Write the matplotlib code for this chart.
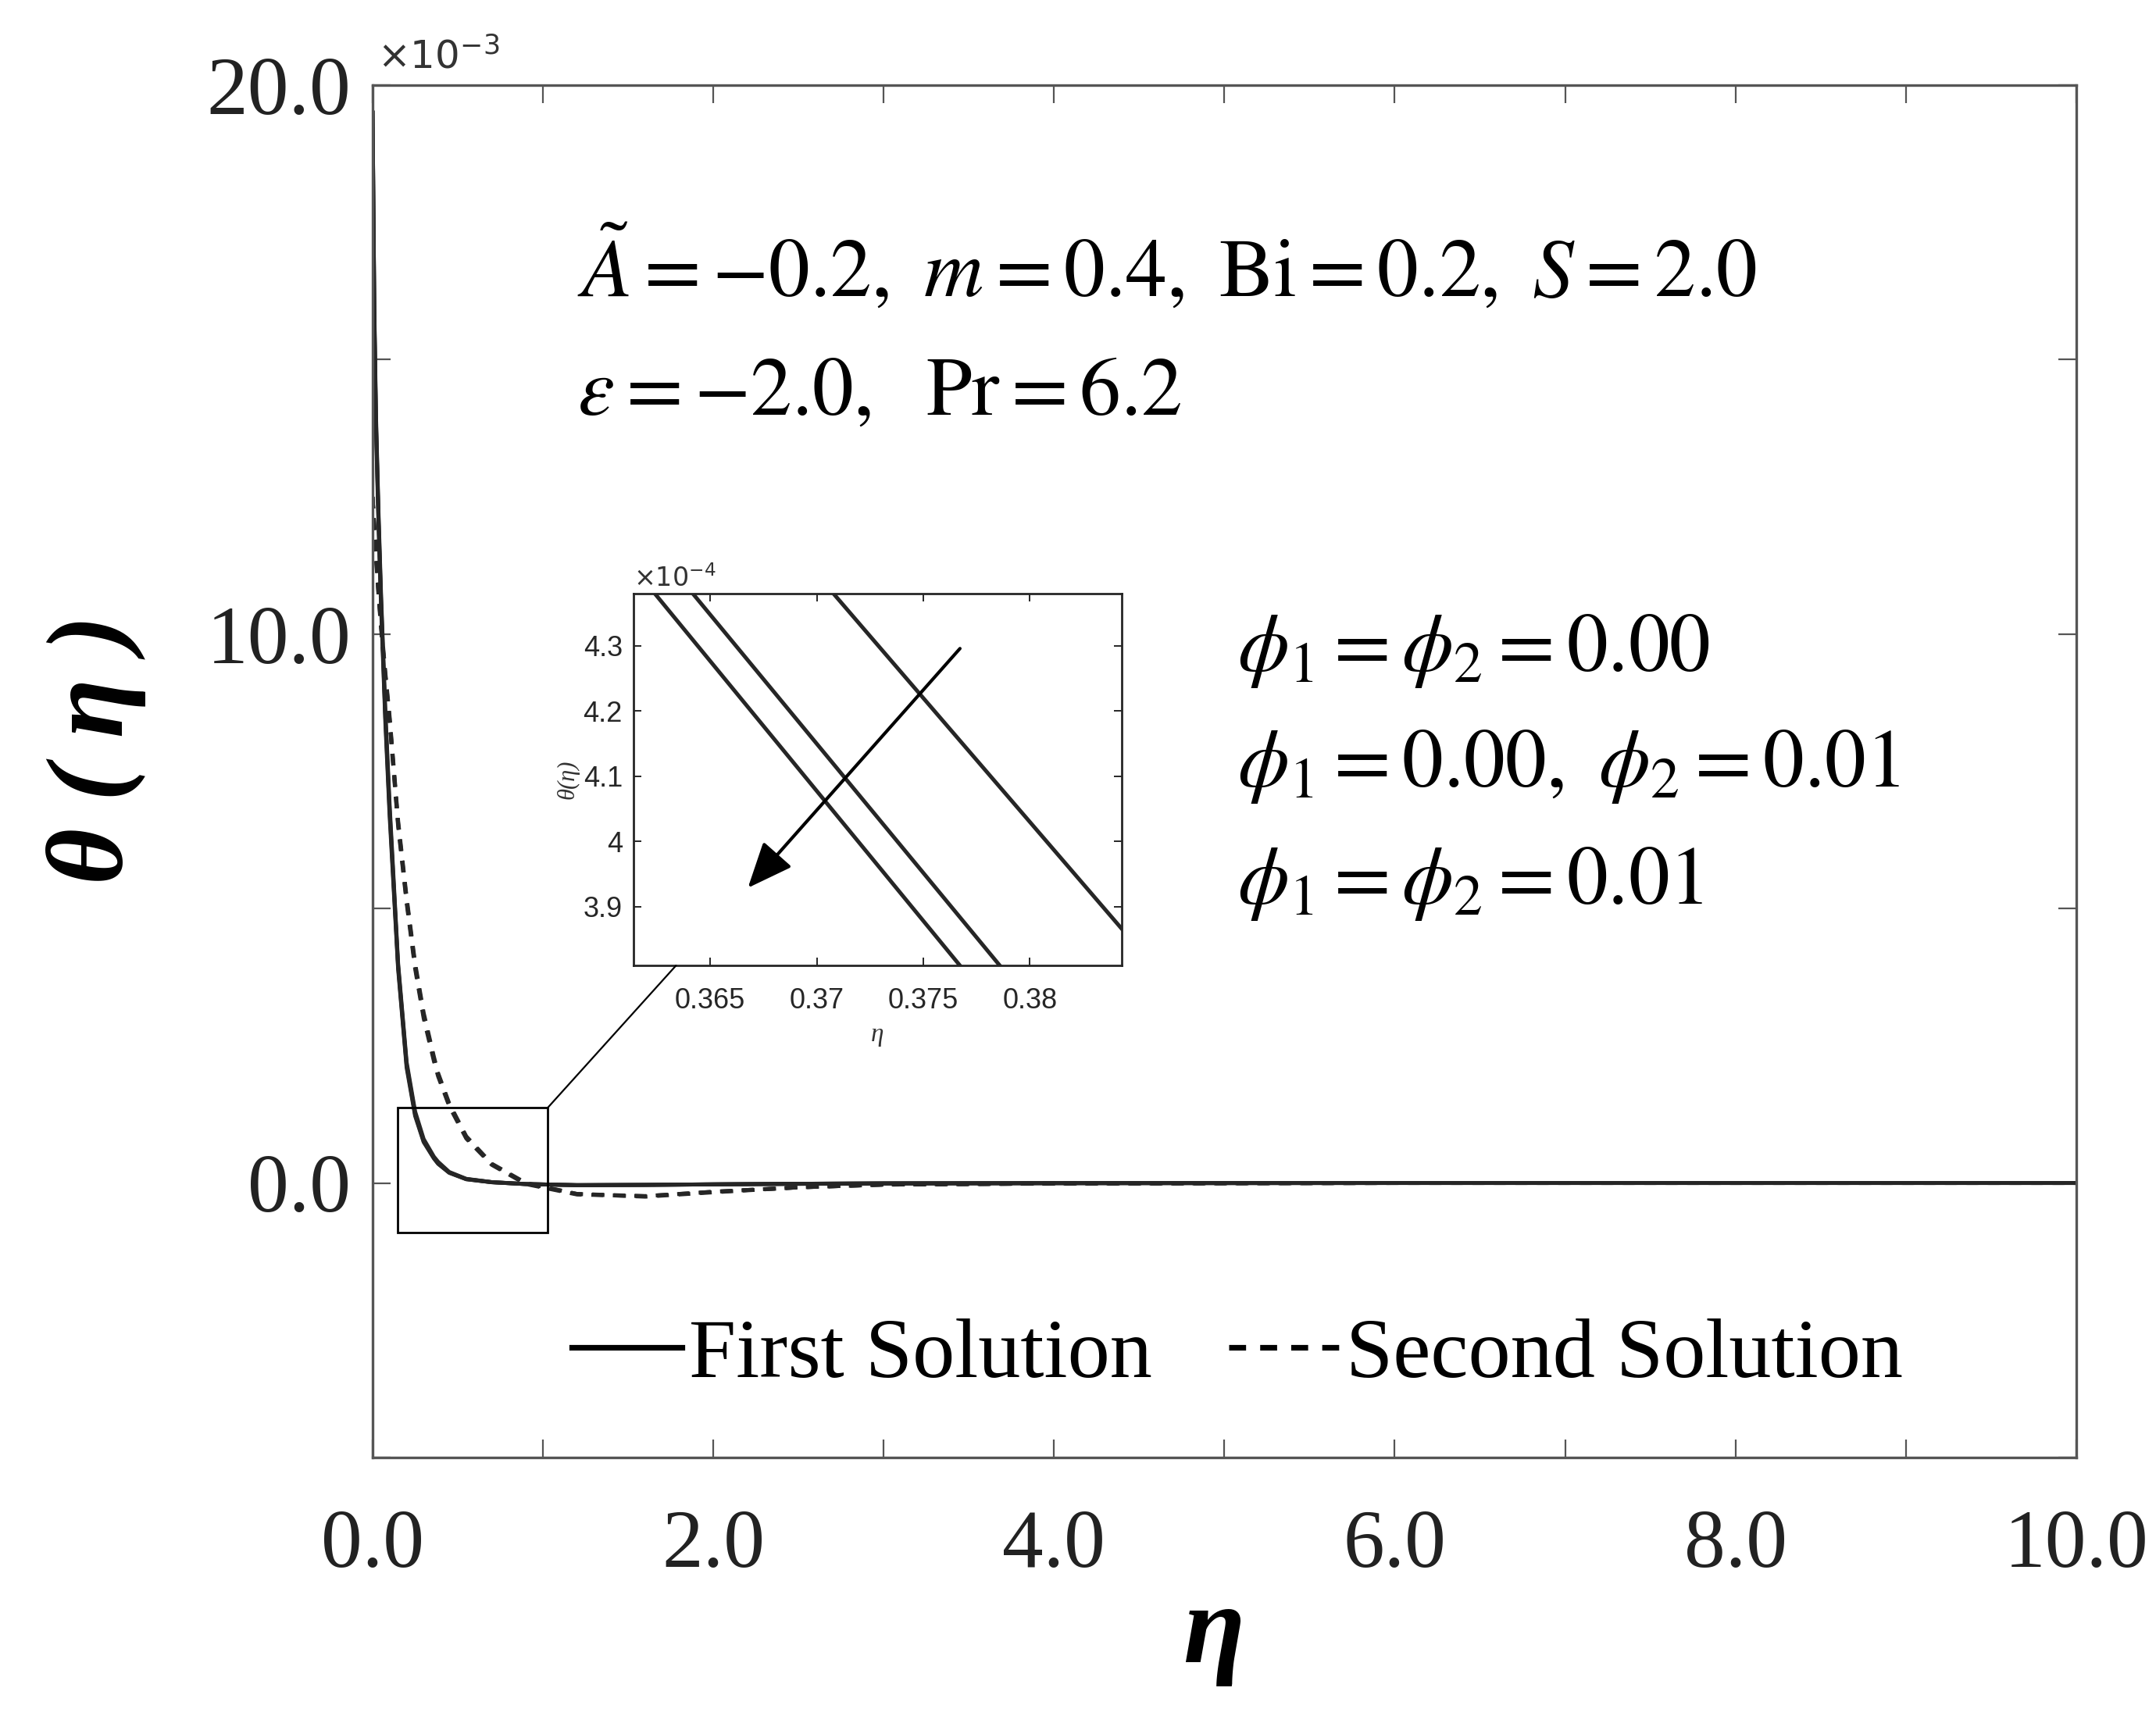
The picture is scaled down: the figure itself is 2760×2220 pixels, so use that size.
import numpy as np
import matplotlib
matplotlib.use('Agg')
import matplotlib.pyplot as plt
from matplotlib.patches import Rectangle, ConnectionPatch

plt.rcParams['font.family'] = ['Liberation Serif', 'DejaVu Serif']
plt.rcParams['mathtext.fontset'] = 'stix'

# theta(eta), values in units of 1e-3
eta = [0, 0.01, 0.02, 0.035, 0.05, 0.075, 0.1, 0.15, 0.2, 0.25, 0.3, 0.36, 0.385,
       0.45, 0.55, 0.7, 0.9, 1.2, 1.6, 2.0, 2.5, 3.0, 4.0, 6.0, 8.0, 10.0]

# first solution: phi1 = phi2 = 0.00 / phi1 = 0.00, phi2 = 0.01 / phi1 = phi2 = 0.01
first_00 = [19.5, 16.0, 14.0, 12.2, 10.7, 8.6, 6.9, 4.0, 2.2, 1.3, 0.8, 0.479, 0.384,
            0.2, 0.075, 0.015, -0.02, -0.04, -0.035, -0.025, -0.015, -0.008, -0.003, 0.0, 0.0, 0.0]
first_01 = [19.5, 15.9, 13.9, 12.1, 10.6, 8.5, 6.8, 3.95, 2.15, 1.25, 0.76, 0.4546, 0.3556,
            0.19, 0.07, 0.014, -0.02, -0.04, -0.035, -0.025, -0.015, -0.008, -0.003, 0.0, 0.0, 0.0]
first_11 = [19.5, 15.8, 13.8, 12.0, 10.5, 8.4, 6.7, 3.9, 2.1, 1.22, 0.745, 0.4476, 0.348,
            0.185, 0.068, 0.013, -0.02, -0.04, -0.035, -0.025, -0.015, -0.008, -0.003, 0.0, 0.0, 0.0]

# second solution, same three cases
second_00 = [12.5, 12.0, 11.5, 10.8, 10.2, 9.3, 8.5, 6.6, 5.2, 4.0, 3.1, 2.3, 2.0,
             1.45, 0.85, 0.35, 0.0, -0.2, -0.25, -0.17, -0.08, -0.03, -0.01, 0.0, 0.0, 0.0]
second_01 = [12.5, 11.95, 11.45, 10.75, 10.15, 9.25, 8.45, 6.55, 5.15, 3.95, 3.05, 2.26, 1.97,
             1.42, 0.83, 0.34, -0.01, -0.2, -0.24, -0.16, -0.08, -0.03, -0.01, 0.0, 0.0, 0.0]
second_11 = [12.5, 11.9, 11.4, 10.7, 10.1, 9.2, 8.4, 6.5, 5.1, 3.9, 3.0, 2.22, 1.94,
             1.4, 0.81, 0.33, -0.02, -0.21, -0.24, -0.16, -0.08, -0.03, -0.01, 0.0, 0.0, 0.0]

x_ticks = [0, 1, 2, 3, 4, 5, 6, 7, 8, 9, 10]
x_labels = ['0.0', '', '2.0', '', '4.0', '', '6.0', '', '8.0', '', '10.0']
y_ticks = [-5, 0, 5, 10, 15, 20]
y_labels = ['', '0.0', '', '10.0', '', '20.0']

ins_xticks = [0.365, 0.37, 0.375, 0.38]
ins_xlabels = ['0.365', '0.37', '0.375', '0.38']
ins_yticks = [3.9, 4.0, 4.1, 4.2, 4.3]
ins_ylabels = ['3.9', '4', '4.1', '4.2', '4.3']

line_col = '#262626'
spine_col = '#555555'

fig = plt.figure(figsize=(13.8, 11.1), dpi=200)
ax = fig.add_axes([0.1728, 0.1595, 0.7902, 0.7914])

for y in [first_00, first_01, first_11]:
    h1, = ax.plot(eta, y, color=line_col, lw=1.8, solid_joinstyle='round')
for y in [second_00, second_01, second_11]:
    h2, = ax.plot(eta, y, color=line_col, lw=1.8, dashes=(3, 2.5))

ax.set_xlim(0, 10)
ax.set_ylim(-5, 20)
ax.set_xticks(x_ticks)
ax.set_xticklabels(x_labels)
ax.set_yticks(y_ticks)
ax.set_yticklabels(y_labels)
ax.tick_params(direction='in', length=8.3, width=0.8, top=True, right=True,
               labelsize=38, colors=spine_col, labelcolor='#222222')
ax.tick_params(axis='x', pad=24)
ax.tick_params(axis='y', pad=10)
for s in ax.spines.values():
    s.set_color(spine_col)
    s.set_linewidth(1.2)

ax.text(0.003, 1.006, r'$\times10^{-3}$', transform=ax.transAxes, fontsize=18,
        math_fontfamily='dejavusans', ha='left', va='bottom', color='#333333')

fig.text(0.0446, 0.568, 'θ ( η )', rotation=90, fontsize=50, fontweight='bold',
         fontstyle='italic', ha='center', va='center')
fig.text(0.563, 0.0568, 'η', fontsize=52, fontweight='bold', fontstyle='italic',
         ha='center', va='center')

# parameter annotations
fig.text(0.2678, 0.8288, r'$\tilde{A} = -0.2,\ m = 0.4,\ \mathrm{Bi} = 0.2,\ S = 2.0$',
         fontsize=38, ha='left', va='baseline')
fig.text(0.2678, 0.7608, r'$\varepsilon = -2.0,\ \ \mathrm{Pr} = 6.2$',
         fontsize=38, ha='left', va='baseline')
fig.text(0.574, 0.613, r'$\phi_1 = \phi_2 = 0.00$', fontsize=38, ha='left', va='baseline')
fig.text(0.574, 0.5464, r'$\phi_1 = 0.00,\ \phi_2 = 0.01$', fontsize=38, ha='left', va='baseline')
fig.text(0.574, 0.479, r'$\phi_1 = \phi_2 = 0.01$', fontsize=38, ha='left', va='baseline')

leg = ax.legend([h1, h2], ['First Solution', 'Second Solution'], loc='center left',
                bbox_to_anchor=(0.1169, 0.0734), ncol=2, frameon=False, fontsize=39,
                handlelength=1.3, handletextpad=0.09, columnspacing=0.9,
                borderpad=0, borderaxespad=0)
for lh in leg.legend_handles:
    lh.set_linewidth(2.6)
    lh.set_color('black')

# zoom box on the main axes
ax.add_patch(Rectangle((0.149, -0.91), 0.879, 2.28, fill=False, lw=1.0,
                       edgecolor='black', zorder=6))

# inset
axins = fig.add_axes([0.2938, 0.4432, 0.2264, 0.2144])
for y in [first_00, first_01, first_11]:
    axins.plot(eta, np.array(y) * 10, color=line_col, lw=1.8)
axins.set_xlim(0.3614, 0.3843)
axins.set_ylim(3.81, 4.38)
axins.set_xticks(ins_xticks)
axins.set_xticklabels(ins_xlabels)
axins.set_yticks(ins_yticks)
axins.set_yticklabels(ins_ylabels)
axins.tick_params(direction='in', length=3.6, width=0.7, top=True, right=True,
                  labelsize=13, colors='#262626')
axins.tick_params(axis='x', pad=10)
axins.tick_params(axis='y', pad=5)
for lab in axins.get_xticklabels() + axins.get_yticklabels():
    lab.set_fontfamily('Liberation Sans')
for s in axins.spines.values():
    s.set_color('#262626')
    s.set_linewidth(1.0)
axins.set_xlabel('η', fontsize=12, fontstyle='italic', labelpad=4, color='#333333')
axins.set_ylabel('θ(η)', fontsize=11, fontstyle='italic', labelpad=2, color='#333333')
axins.text(0.0, 1.005, r'$\times10^{-4}$', transform=axins.transAxes, fontsize=12,
           math_fontfamily='dejavusans', ha='left', va='bottom', color='#333333')
axins.annotate('', xy=(0.36677, 3.929), xytext=(0.37672, 4.296),
               arrowprops=dict(arrowstyle='-|>,head_length=0.9,head_width=0.38',
                               lw=1.5, color='black', shrinkA=0, shrinkB=0,
                               mutation_scale=20))

con = ConnectionPatch(xyA=(1.028, 1.37), coordsA=ax.transData,
                      xyB=(0.3634, 3.81), coordsB=axins.transData,
                      color='black', lw=0.8)
fig.add_artist(con)

fig.savefig('out.png', dpi=200)
